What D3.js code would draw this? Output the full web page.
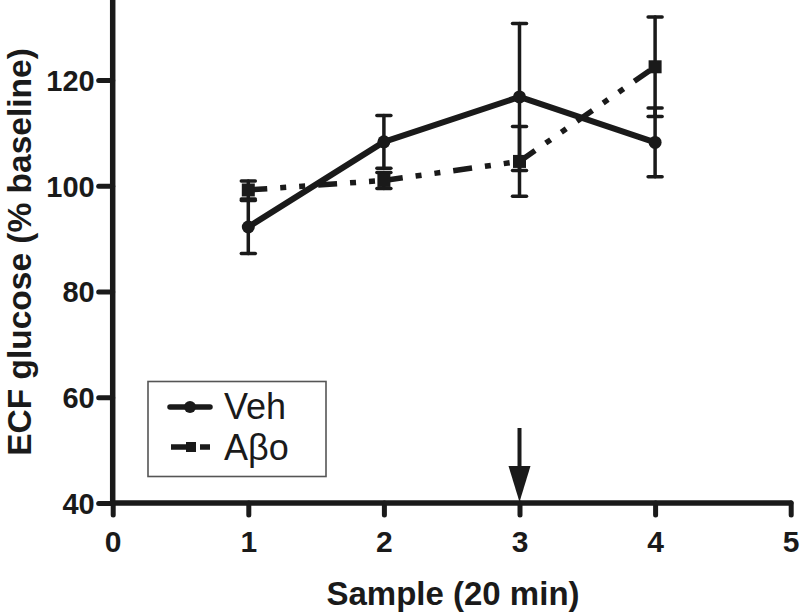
<!DOCTYPE html>
<html>
<head>
<meta charset="utf-8">
<script src="https://cdn.jsdelivr.net/npm/d3@7"></script>
<style>
html,body{margin:0;padding:0;background:#fff;}
svg{display:block;}
text{font-family:"Liberation Sans",Arial,sans-serif;fill:#1a1a1a;}
</style>
</head>
<body>
<svg id="chart" width="800" height="614"></svg>
<script>
// ---- data ----
const samples = [1, 2, 3, 4];
const vehMean = [92.2, 108.3, 116.8, 108.2];
const vehErr  = [5.0, 5.0, 13.9, 6.5];
const abMean  = [99.2, 101.0, 104.6, 122.5];
const abErr   = [1.7, 1.5, 6.6, 9.4];
const xTicks = [0, 1, 2, 3, 4, 5];
const yTicks = [40, 60, 80, 100, 120];
const arrowAt = 3;
const xTitle = "Sample (20 min)";
const yTitle = "ECF glucose (% baseline)";
const legendLabels = ["Veh", "A\u03B2o"];

// ---- layout ----
const ink = "#1a1a1a";
const svg = d3.select("#chart");
const x = d3.scaleLinear().domain([0, 5]).range([112.7, 790.7]);
const y = d3.scaleLinear().domain([40, 140]).range([503, -25.75]);

// axes
const yAxis = d3.axisLeft(y).tickValues(yTicks).tickSize(14).tickPadding(4).tickFormat(d3.format("d"));
const xAxis = d3.axisBottom(x).tickValues(xTicks).tickSize(12).tickPadding(16).tickFormat(d3.format("d"));

const gy = svg.append("g").attr("transform", `translate(${x(0)},0)`).call(yAxis);
gy.select(".domain").remove();
gy.append("line").attr("x1", 0).attr("x2", 0).attr("y1", -5).attr("y2", y(40))
  .attr("stroke", ink).attr("stroke-width", 5.5);
gy.selectAll(".tick line").attr("stroke", ink).attr("stroke-width", 5).attr("stroke-linecap", "round");
gy.selectAll(".tick text").attr("font-size", 29).attr("font-weight", "bold").attr("fill", ink).attr("dy", "0.36em");

const gx = svg.append("g").attr("transform", `translate(0,${y(40)})`).call(xAxis);
gx.select(".domain").remove();
gx.append("line").attr("x1", x(0)).attr("x2", x(5)).attr("y1", 0).attr("y2", 0)
  .attr("stroke", ink).attr("stroke-width", 5.5).attr("stroke-linecap", "round");
gx.selectAll(".tick line").attr("stroke", ink).attr("stroke-width", 5).attr("stroke-linecap", "round");
gx.selectAll(".tick text").attr("font-size", 30).attr("font-weight", "bold").attr("fill", ink);

// titles
svg.append("text").attr("x", 453).attr("y", 605).attr("text-anchor", "middle")
  .attr("font-size", 33).attr("font-weight", "bold").text(xTitle);
svg.append("text").attr("transform", `translate(31,252) rotate(-90)`).attr("text-anchor", "middle")
  .attr("font-size", 33.5).attr("font-weight", "bold").text(yTitle);

// error bars
function errorBars(means, errs) {
  const g = svg.append("g").attr("stroke", ink).attr("stroke-linecap", "round");
  samples.forEach((s, i) => {
    const cx = x(s), top = y(means[i] + errs[i]), bot = y(means[i] - errs[i]);
    g.append("line").attr("x1", cx).attr("x2", cx).attr("y1", top).attr("y2", bot).attr("stroke-width", 3.5);
    [top, bot].forEach(yy => g.append("line").attr("x1", cx - 7).attr("x2", cx + 7)
      .attr("y1", yy).attr("y2", yy).attr("stroke-width", 3.5));
  });
}
errorBars(abMean, abErr);
errorBars(vehMean, vehErr);

// Aβo dash-dot line (pattern restarts at each point)
const abG = svg.append("g");
for (let i = 0; i < samples.length - 1; i++) {
  abG.append("line")
    .attr("x1", x(samples[i])).attr("y1", y(abMean[i]))
    .attr("x2", x(samples[i + 1])).attr("y2", y(abMean[i + 1]))
    .attr("stroke", ink).attr("stroke-width", 5.5)
    .attr("stroke-dasharray", "19,13,6,13,6,13");
}
abG.selectAll("rect").data(samples).join("rect")
  .attr("x", (d) => x(d) - 6.5).attr("y", (d, i) => y(abMean[i]) - 6.5)
  .attr("width", 13).attr("height", 13).attr("fill", ink);

// Veh solid line
const line = d3.line().x((d) => x(d[0])).y((d) => y(d[1]));
svg.append("path").datum(samples.map((s, i) => [s, vehMean[i]]))
  .attr("d", line).attr("fill", "none").attr("stroke", ink)
  .attr("stroke-width", 6).attr("stroke-linejoin", "round");
svg.append("g").selectAll("circle").data(samples).join("circle")
  .attr("cx", (d) => x(d)).attr("cy", (d, i) => y(vehMean[i])).attr("r", 6.5).attr("fill", ink);

// arrow
const ax = x(arrowAt);
svg.append("line").attr("x1", ax).attr("x2", ax).attr("y1", 428).attr("y2", 470)
  .attr("stroke", ink).attr("stroke-width", 4);
svg.append("path").attr("d", `M${ax - 11},466 L${ax + 11},466 L${ax},502 Z`).attr("fill", ink);

// legend
const lg = svg.append("g");
lg.append("rect").attr("x", 148).attr("y", 381.5).attr("width", 178).attr("height", 95)
  .attr("fill", "#fff").attr("stroke", "#555").attr("stroke-width", 1.6);
lg.append("line").attr("x1", 170).attr("x2", 210).attr("y1", 407).attr("y2", 407)
  .attr("stroke", ink).attr("stroke-width", 5.5).attr("stroke-linecap", "round");
lg.append("circle").attr("cx", 190).attr("cy", 407).attr("r", 6).attr("fill", ink);
lg.append("line").attr("x1", 171).attr("x2", 210).attr("y1", 447).attr("y2", 447)
  .attr("stroke", ink).attr("stroke-width", 5.5).attr("stroke-dasharray", "21,8,10");
lg.append("rect").attr("x", 186).attr("y", 442).attr("width", 10).attr("height", 10).attr("fill", ink);
lg.append("text").attr("x", 224).attr("y", 419).attr("font-size", 36).text(legendLabels[0]);
lg.append("text").attr("x", 224).attr("y", 460).attr("font-size", 36).text(legendLabels[1]);
</script>
</body>
</html>
